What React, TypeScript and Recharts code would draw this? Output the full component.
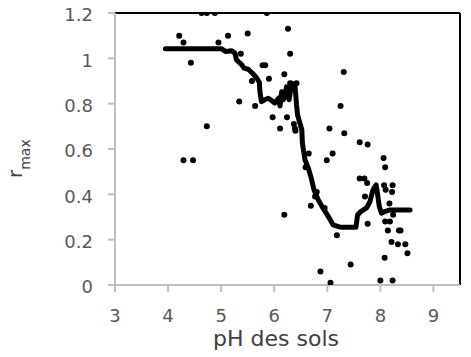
import React from 'react';
import { ComposedChart, Scatter, Line, XAxis, YAxis, ReferenceLine, Label } from 'recharts';

const pointsX = [4.63, 4.73, 4.88, 5.86, 4.21, 4.29, 4.43, 4.73, 4.95, 5.13, 5.50, 5.37, 5.34, 5.58, 5.64, 5.78, 5.83, 5.90, 5.97, 6.11, 6.19, 6.24, 6.26, 6.30, 6.30, 6.42, 6.37, 6.39, 6.40, 6.19, 4.29, 4.47, 7.31, 7.25, 7.04, 7.32, 7.61, 7.76, 6.65, 7.10, 6.99, 6.59, 8.06, 8.09, 6.80, 6.77, 6.69, 6.95, 7.18, 6.87, 7.06, 7.61, 7.70, 7.75, 8.07, 8.23, 8.10, 7.71, 8.22, 8.17, 8.24, 7.76, 8.09, 8.18, 8.14, 8.35, 8.38, 8.21, 8.33, 8.47, 8.51, 8.08, 7.44, 8.00, 8.23];
const pointsY = [1.20, 1.20, 1.20, 1.20, 1.10, 1.07, 0.98, 0.70, 1.07, 1.10, 1.11, 1.02, 0.81, 0.90, 0.79, 0.97, 0.97, 0.91, 0.74, 0.69, 0.93, 0.74, 1.13, 1.02, 0.89, 0.89, 0.71, 0.69, 0.68, 0.31, 0.55, 0.55, 0.94, 0.79, 0.69, 0.67, 0.63, 0.62, 0.58, 0.58, 0.55, 0.52, 0.56, 0.52, 0.41, 0.39, 0.35, 0.34, 0.22, 0.06, 0.01, 0.47, 0.47, 0.45, 0.44, 0.44, 0.42, 0.39, 0.41, 0.36, 0.31, 0.27, 0.28, 0.28, 0.24, 0.24, 0.24, 0.19, 0.18, 0.18, 0.14, 0.12, 0.09, 0.02, 0.02];

const lineX = [3.95, 5.01, 5.09, 5.20, 5.26, 5.29, 5.39, 5.43, 5.51, 5.60, 5.67, 5.72, 5.73, 5.76, 5.82, 5.89, 5.95, 6.01, 6.08, 6.11, 6.14, 6.17, 6.20, 6.23, 6.28, 6.33, 6.39, 6.42, 6.44, 6.52, 6.53, 6.58, 6.64, 6.69, 6.75, 6.83, 6.92, 7.02, 7.11, 7.24, 7.54, 7.57, 7.63, 7.74, 7.80, 7.86, 7.92, 7.94, 7.98, 8.02, 8.08, 8.18, 8.56];
const lineY = [1.042, 1.042, 1.03, 1.033, 1.023, 0.993, 0.971, 0.957, 0.952, 0.932, 0.913, 0.893, 0.853, 0.809, 0.817, 0.824, 0.814, 0.802, 0.824, 0.79, 0.853, 0.817, 0.831, 0.874, 0.817, 0.89, 0.883, 0.795, 0.75, 0.684, 0.627, 0.552, 0.517, 0.478, 0.419, 0.375, 0.339, 0.302, 0.265, 0.255, 0.255, 0.309, 0.324, 0.34, 0.366, 0.419, 0.442, 0.412, 0.346, 0.317, 0.324, 0.331, 0.331];

const xTicks = [3, 4, 5, 6, 7, 8, 9];
const yTicks = [0, 0.2, 0.4, 0.6, 0.8, 1, 1.2];

const scatterData = pointsX.map((x, i) => ({ x, y: pointsY[i] }));
const lineData = lineX.map((x, i) => ({ x, y: lineY[i] }));

const FONT = 'DejaVu Sans';

const Dot = (props: any) => {
  const { cx, cy } = props;
  if (cx == null || cy == null) return null;
  return <circle cx={cx} cy={cy} r={3} fill="#000" />;
};

export default function App() {
  return (
    <div style={{ position: 'absolute', left: 0, top: 0, width: 471, height: 357, background: '#fff' }}>
      <ComposedChart width={471} height={357} margin={{ top: 13, right: 11, bottom: 42, left: 55 }}>
        <XAxis
          type="number"
          dataKey="x"
          domain={[3, 9.5]}
          ticks={xTicks}
          allowDataOverflow
          height={30}
          stroke="#bfbfbf"
          strokeWidth={2}
          tickSize={7}
          tickMargin={17}
          tick={{ fill: '#595959', fontSize: 18, fontFamily: FONT }}
        >
          <Label
            content={() => (
              <text x={276} y={346} textAnchor="middle" fill="#404040" fontSize={22} fontFamily={FONT}>
                pH des sols
              </text>
            )}
          />
        </XAxis>
        <YAxis
          type="number"
          dataKey="y"
          domain={[0, 1.2]}
          ticks={yTicks}
          allowDataOverflow
          width={60}
          stroke="#bfbfbf"
          strokeWidth={2}
          tickSize={7}
          tickMargin={15}
          tick={{ fill: '#595959', fontSize: 18, fontFamily: FONT, dy: 2 }}
        >
          <Label
            content={() => (
              <text transform="translate(22,178) rotate(-90)" fill="#404040" fontFamily={FONT}>
                <tspan fontSize={20}>r</tspan>
                <tspan fontSize={14} dy={8}>max</tspan>
              </text>
            )}
          />
        </YAxis>
        <ReferenceLine y={1.2} stroke="#000" strokeWidth={2} ifOverflow="visible" />
        <ReferenceLine x={9.5} stroke="#000" strokeWidth={2} ifOverflow="visible" />
        <Scatter data={scatterData} dataKey="y" shape={<Dot />} isAnimationActive={false} />
        <Line
          data={lineData}
          dataKey="y"
          type="linear"
          stroke="#000"
          strokeWidth={5}
          strokeLinejoin="round"
          strokeLinecap="round"
          dot={false}
          activeDot={false}
          isAnimationActive={false}
        />
      </ComposedChart>
    </div>
  );
}
